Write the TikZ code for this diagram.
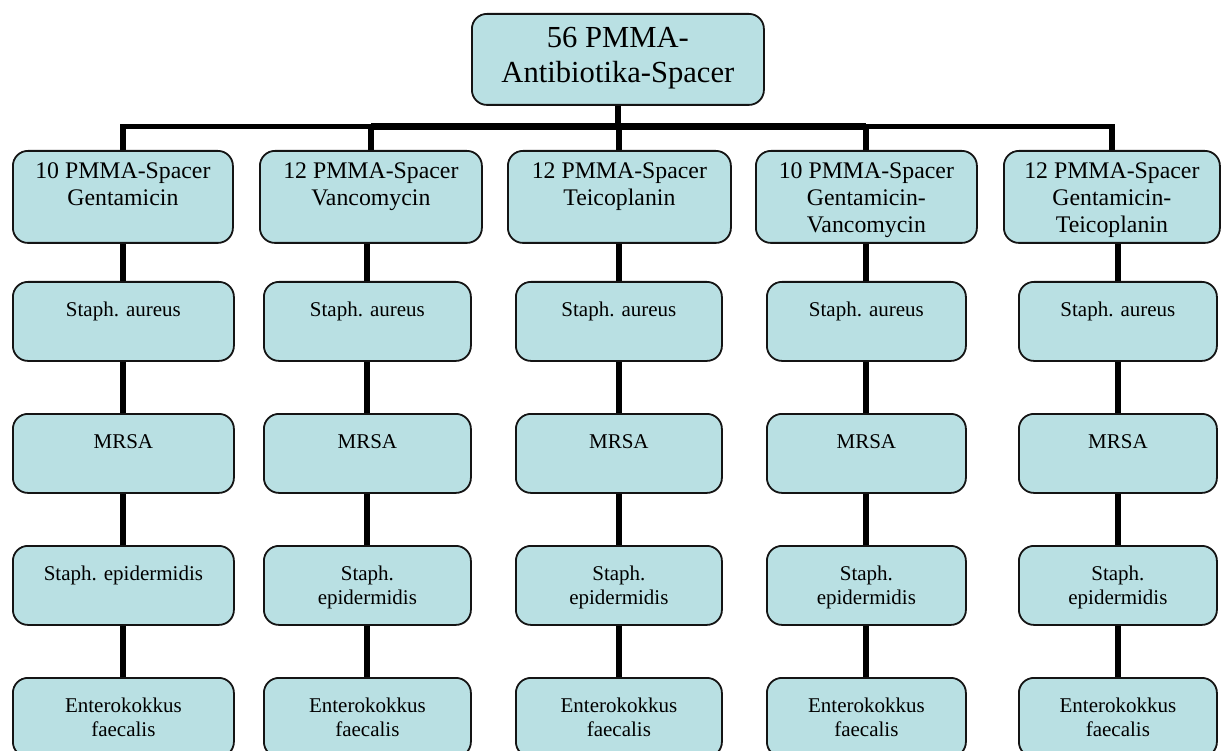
\documentclass[tikz,border=0pt]{standalone}
\usepackage{fontspec}
\setmainfont{Liberation Serif}
\usetikzlibrary{backgrounds}
\definecolor{boxfill}{RGB}{185,224,227}
\definecolor{boxline}{RGB}{20,20,20}
\newcommand{\bxt}[4]{\parbox[c][#2pt][t]{#1pt}{\centering\vspace*{#3pt}\strut #4\par}}
\newcommand{\ftop}{\fontsize{30.6}{35}\selectfont}
\newcommand{\fmid}{\fontsize{23.8}{26.7}\selectfont}
\newcommand{\flow}{\fontsize{21}{23.4}\selectfont}
\newcommand{\midbox}[4]{\node[bx] (#1) at (#2,150) {\fmid\bxt{#3}{92}{9.3}{#4}};}
\newcommand{\lowbox}[5]{\node[bx] (#1) at (#2,#3) {\flow\bxt{#4}{79}{18.6}{#5}};}
\tikzset{
  bx/.style={draw=boxline, fill=boxfill, line width=1.8pt, rounded corners=15pt,
    inner sep=0pt, anchor=north west, text=black},
  conn/.style={line width=6pt, black},
  barthin/.style={line width=5.5pt, black, line join=miter},
  barthick/.style={line width=7pt, black}
}
\begin{document}
\begin{tikzpicture}[x=1pt,y=-1pt]
\useasboundingbox (0,0) rectangle (1221,751);
\coordinate (bar) at (0,126.5);
\node[bx] (t) at (471,13) {\ftop\bxt{292}{91}{9.5}{56 PMMA-\\Antibiotika-Spacer}};
\midbox{a1}{12}{220}{10 PMMA-Spacer\\Gentamicin}
\midbox{a2}{259}{222}{12 PMMA-Spacer\\Vancomycin}
\midbox{a3}{507}{223}{12 PMMA-Spacer\\Teicoplanin}
\midbox{a4}{755}{221}{10 PMMA-Spacer\\Gentamicin-\\Vancomycin}
\midbox{a5}{1003}{216}{12 PMMA-Spacer\\Gentamicin-\\Teicoplanin}
\lowbox{b1}{12}{281}{221}{Staph. aureus}
\lowbox{b2}{263}{281}{207}{Staph. aureus}
\lowbox{b3}{515}{281}{206}{Staph. aureus}
\lowbox{b4}{766}{281}{199}{Staph. aureus}
\lowbox{b5}{1018}{281}{198}{Staph. aureus}
\lowbox{m1}{12}{413}{221}{MRSA}
\lowbox{m2}{263}{413}{207}{MRSA}
\lowbox{m3}{515}{413}{206}{MRSA}
\lowbox{m4}{766}{413}{199}{MRSA}
\lowbox{m5}{1018}{413}{198}{MRSA}
\lowbox{e1}{12}{545}{221}{Staph. epidermidis}
\lowbox{e2}{263}{545}{207}{Staph.\\epidermidis}
\lowbox{e3}{515}{545}{206}{Staph.\\epidermidis}
\lowbox{e4}{766}{545}{199}{Staph.\\epidermidis}
\lowbox{e5}{1018}{545}{198}{Staph.\\epidermidis}
\lowbox{f1}{12}{677}{221}{Enterokokkus\\faecalis}
\lowbox{f2}{263}{677}{207}{Enterokokkus\\faecalis}
\lowbox{f3}{515}{677}{206}{Enterokokkus\\faecalis}
\lowbox{f4}{766}{677}{199}{Enterokokkus\\faecalis}
\lowbox{f5}{1018}{677}{198}{Enterokokkus\\faecalis}
\begin{pgfonlayer}{background}
\draw[conn] (t.south) -- (t.south|-bar);
\draw[barthin] (a1.north) -- (a1.north|-bar) -- (a2.north|-bar);
\draw[barthick] (a2.north|-bar) -- (a4.north|-bar);
\draw[barthin] (a4.north|-bar) -- (a5.north|-bar) -- (a5.north);
\foreach \i in {2,3,4} {\draw[conn] (a\i.north|-bar) -- (a\i.north);}
\foreach \i in {1,...,5} {
  \draw[conn] (b\i.north) -- (b\i.north|-a\i.south);
  \draw[conn] (m\i.north) -- (m\i.north|-b\i.south);
  \draw[conn] (e\i.north) -- (e\i.north|-m\i.south);
  \draw[conn] (f\i.north) -- (f\i.north|-e\i.south);
}
\end{pgfonlayer}
\end{tikzpicture}
\end{document}
